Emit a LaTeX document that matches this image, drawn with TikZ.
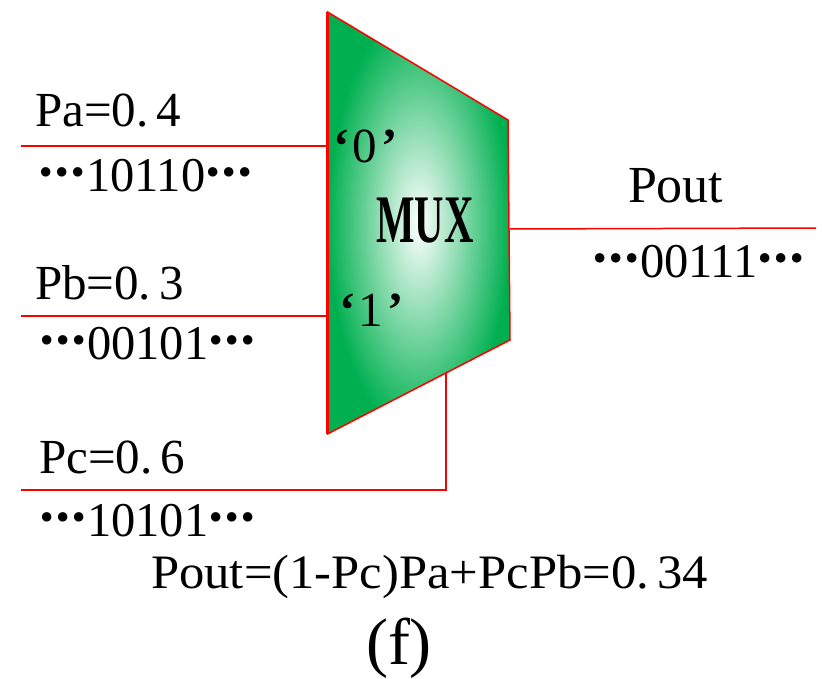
\documentclass[tikz,border=0pt]{standalone}
\usepackage{fontspec}
\setmainfont{Liberation Serif}
\newcommand{\bd}{\makebox[16pt][c]{\fontsize{58}{58}\selectfont\textbf{·}}}
\newcommand{\bds}{\bd\bd\bd}
\newcommand{\qtd}[1]{\textbf{‘}\kern3pt #1\kern5pt \textbf{’}}
\tikzset{
  wire/.style={draw={rgb,255:red,255;green,0;blue,0},line width=1.5pt},
  lbl/.style={anchor=base west,inner sep=0pt,outer sep=0pt,font=\fontsize{49}{49}\selectfont},
  bits/.style={anchor=base west,inner sep=0pt,outer sep=0pt,font=\fontsize{48.5}{48.5}\selectfont},
}
\definecolor{mgreen}{RGB}{0,176,80}
\begin{document}
\begin{tikzpicture}[x=1pt,y=-1pt]
\useasboundingbox (0,0) rectangle (822,679);
% multiplexer body
\coordinate (tl) at (327.5,12);
\coordinate (tr) at (508,120);
\coordinate (br) at (510,340);
\coordinate (bl) at (327.5,434);
\path[shade,inner color=white,outer color=mgreen,shading=radial] (tl)--(tr)--(br)--(bl)--cycle;
\draw[wire] (tl)--(tr)--(br)--(bl)--cycle;
\draw[wire,line width=2.2pt] (tl)--(bl);
\node[inner sep=0pt,anchor=base] (mux) at (425,243) {\scalebox{0.6}[1]{\fontsize{68}{68}\selectfont\textbf{MUX}}};
% connectors
\coordinate (ina) at (21,146); \coordinate (ma) at (tl|-ina);
\coordinate (inb) at (21,316); \coordinate (mb) at (tl|-inb);
\coordinate (inc) at (21,490); \coordinate (cc) at (446,490); \coordinate (mc) at (446,373);
\coordinate (mo) at (510,229); \coordinate (ot) at (816,228);
\draw[wire] (ina)--(ma);
\draw[wire] (inb)--(mb);
\draw[wire] (inc)--(cc)--(mc);
\draw[wire] (mo)--(ot);
% labels
\node[lbl] (pa) at (35,127) {Pa=0.\,4};
\node[bits] (ba) at (38,192) {\bds 10110\bds};
\node[lbl] (pb) at (35,299) {Pb=0.\,3};
\node[bits] (bb) at (39,359) {\bds 00101\bds};
\node[lbl] (pc) at (39,473) {Pc=0.\,6};
\node[bits] (bc) at (39,536) {\bds 10101\bds};
\node[lbl,font=\fontsize{52}{52}\selectfont] (po) at (628,203) {Pout};
\node[bits] (bo) at (592,277) {\bds 00111\bds};
\node[lbl] (z) at (333,163) {\qtd{0}};
\node[lbl] (o) at (339,326) {\qtd{1}};
\node[anchor=base west,inner sep=0pt] (f) at (151,588) {\scalebox{1.055}[1]{\fontsize{48}{48}\selectfont Pout=(1-Pc)Pa+PcPb=0.\,34}};
\node[anchor=base,inner sep=0pt] (cap) at (399,664) {\fontsize{66}{66}\selectfont (f)};
\end{tikzpicture}
\end{document}
